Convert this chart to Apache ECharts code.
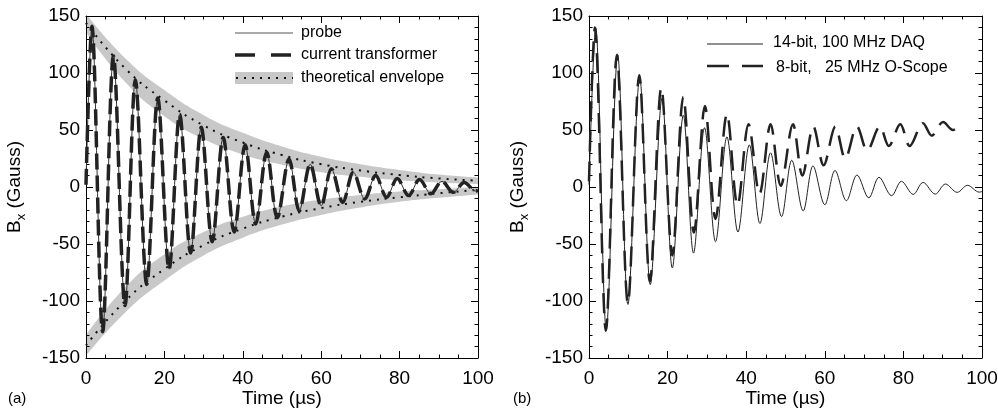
<!DOCTYPE html>
<html>
<head>
<meta charset="utf-8">
<script src="https://cdn.jsdelivr.net/npm/echarts@6/dist/echarts.min.js"></script>
<style>
html, body { margin: 0; padding: 0; background: #fff; }
#chart { width: 998px; height: 408px; }
</style>
</head>
<body>
<div id="chart"></div>
<script>
// peaks and troughs: [time (us), Bx (Gauss)]
var probe = [
  [0, 3], [1.5, 141], [4.25, -127], [7.0, 115], [9.95, -104], [12.6, 94], [15.5, -85.5],
  [18.3, 78], [21.2, -72], [23.9, 63.5], [26.7, -58], [29.4, 52.5], [32.2, -48],
  [35.0, 43.5], [37.8, -39.5], [40.6, 37], [43.3, -32.5], [46.1, 30.5], [48.8, -27],
  [51.8, 24.5], [54.4, -21], [57.2, 20], [60.0, -16.5], [62.6, 16], [65.5, -13.5],
  [68.2, 13], [71.1, -10.5], [73.9, 10], [76.7, -9], [79.4, 7.5], [82.3, -7.5],
  [85.1, 6.5], [88.0, -6], [90.8, 5], [93.7, -4.7], [96.5, 4], [99.4, -3.5], [100, -3]
];
var ctrans = [
  [0, 2], [1.5, 141], [4.25, -127], [7.0, 115], [9.95, -104], [12.6, 94], [15.5, -85.5],
  [18.3, 78], [21.2, -72], [23.9, 63.5], [26.7, -58], [29.4, 52.5], [32.2, -48],
  [35.0, 43.5], [37.8, -39.5], [40.6, 37], [43.3, -32.5], [46.1, 30.5], [48.8, -27],
  [51.8, 24.5], [54.4, -21], [57.2, 20], [60.0, -16.5], [62.6, 16], [65.5, -13.5],
  [68.2, 13], [71.1, -10.5], [73.9, 10], [76.7, -9], [79.4, 7.5], [82.3, -7.5],
  [85.1, 6.5], [88.0, -6], [90.8, 5], [93.7, -4.7], [96.5, 4], [99.4, -3.5], [100, -3]
];

// theoretical envelope (dotted) and its grey band, every 10 us
var envTime = [0, 10, 20, 30, 40, 50, 60, 70, 80, 90, 100];
var envUpper = [144, 104, 76, 54, 39, 28, 20, 14.5, 10.5, 7.5, 5.5];
var envLower = [-139, -100, -72, -51, -36.5, -26, -18.5, -13, -9, -5.5, -2.5];
var bandUpperHi = [152, 113, 85, 63, 47.5, 35.5, 26.5, 20, 15, 11, 8.3];
var bandUpperLo = [136, 92, 62, 42, 28.5, 19.5, 13, 9, 6, 4, 2.7];
var bandLowerHi = [-130, -88, -59, -39.5, -26, -17, -11, -7, -4, -2, -0.5];
var bandLowerLo = [-148, -110, -82, -60, -44.5, -33, -24.5, -18, -13, -9.5, -6.5];

// panel (b)
var daq14 = [
  [0, 2], [1.7, 140], [4.4, -125], [7.3, 116], [9.9, -103], [12.9, 96], [15.6, -85.6],
  [18.6, 78], [21.2, -71], [24.0, 63], [26.6, -58], [29.4, 52], [32.2, -48],
  [35.1, 44], [37.9, -39.5], [40.8, 37], [43.5, -32], [46.2, 30], [49.0, -26],
  [51.6, 23.5], [54.5, -21], [57.0, 18.5], [60.0, -15.5], [62.6, 14.5], [65.5, -12],
  [68.2, 10.5], [71.2, -9.5], [73.8, 8.5], [77.0, -7.6], [79.5, 5], [82.5, -6.5],
  [85.0, 4], [88.1, -6.2], [90.7, 2.6], [93.7, -4.7], [96.3, 1.5], [99.3, -4.5], [100, -4]
];
var scope8 = [
  [0, 5], [1.5, 140], [4.3, -126], [7.1, 116], [9.9, -102], [12.8, 98], [15.5, -83],
  [18.4, 87], [21.2, -60], [24.0, 79], [26.7, -40], [29.5, 71], [32.2, -28],
  [35.1, 64], [37.8, -16], [40.6, 55], [43.4, -6], [46.2, 55], [48.8, 1],
  [51.9, 55], [54.3, 10], [57.1, 53], [59.7, 19], [62.7, 53], [65.2, 25],
  [68.2, 53], [70.8, 32], [74.0, 53], [76.3, 36], [79.2, 55], [81.6, 36],
  [85.0, 56], [87.2, 45], [90.1, 57], [92.6, 50], [94.2, 53]
];

var timeRange = [0, 100];
var bxRange = [-150, 150];

var FONT = '"Liberation Sans", Arial, Helvetica, sans-serif';
var myChart = echarts.init(document.getElementById("chart"));

function pairs(xs, ys) {
  return xs.map(function(x, i) { return [x, ys[i]]; });
}

function xAxisPair(grid) {
  var base = {
    type: "value",
    gridIndex: grid,
    min: timeRange[0],
    max: timeRange[1],
    interval: 20,
    axisLine: { show: true, onZero: false, lineStyle: { color: "#000", width: 1 } },
    axisTick: { show: true, inside: true, length: 7, lineStyle: { color: "#000" } },
    minorTick: { show: true, splitNumber: 4, length: 3.5, lineStyle: { color: "#000" } },
    splitLine: { show: false },
    minorSplitLine: { show: false }
  };
  var bottom = Object.assign({}, base, {
    position: "bottom",
    axisLabel: { margin: 11, fontSize: 19, color: "#000", fontFamily: FONT },
    name: "Time (\u00b5s)",
    nameLocation: "middle",
    nameGap: 31,
    nameMoveOverlap: false,
    nameTextStyle: { fontSize: 19, color: "#000", fontFamily: FONT }
  });
  var top = Object.assign({}, base, { position: "top", axisLabel: { show: false } });
  return [bottom, top];
}

function yAxisPair(grid) {
  var base = {
    type: "value",
    gridIndex: grid,
    min: bxRange[0],
    max: bxRange[1],
    interval: 50,
    axisLine: { show: true, onZero: false, lineStyle: { color: "#000", width: 1 } },
    axisTick: { show: true, inside: true, length: 7, lineStyle: { color: "#000" } },
    minorTick: { show: true, splitNumber: 5, length: 3.5, lineStyle: { color: "#000" } },
    splitLine: { show: false },
    minorSplitLine: { show: false }
  };
  var left = Object.assign({}, base, {
    position: "left",
    axisLabel: { margin: 6, fontSize: 19, color: "#000", fontFamily: FONT },
    name: "{b|B}{s|x}{b| (Gauss)}",
    nameLocation: "middle",
    nameGap: 58,
    nameMoveOverlap: false,
    nameTextStyle: {
      color: "#000",
      fontFamily: FONT,
      fontSize: 19,
      rich: {
        b: { fontSize: 19, fontFamily: FONT, color: "#000", lineHeight: 26 },
        s: { fontSize: 13, fontFamily: FONT, color: "#000", lineHeight: 14, verticalAlign: "bottom" }
      }
    }
  });
  var right = Object.assign({}, base, { position: "right", axisLabel: { show: false } });
  return [left, right];
}

function osc(name, data, xi, width, color, dash, z) {
  return {
    name: name,
    type: "line",
    xAxisIndex: xi,
    yAxisIndex: xi,
    data: data,
    smooth: 0.34,
    symbol: "none",
    silent: true,
    z: z,
    lineStyle: { width: width, color: color, type: dash, cap: "butt" }
  };
}

// grey band = grey area to the outer edge, then white area to the inner edge on top
function bandArea(vals, color, z) {
  return {
    type: "line", xAxisIndex: 0, yAxisIndex: 0,
    data: pairs(envTime, vals), smooth: true, symbol: "none", silent: true, z: z,
    lineStyle: { width: 0, opacity: 0 },
    areaStyle: { color: color, opacity: 1, origin: 0 }
  };
}

function envLine(vals) {
  return {
    type: "line", xAxisIndex: 0, yAxisIndex: 0,
    data: pairs(envTime, vals), smooth: true, symbol: "none", silent: true, z: 1,
    lineStyle: { width: 2, color: "#111", type: [2, 6], cap: "butt" }
  };
}

var legendFont = '16px "Liberation Sans", Arial, sans-serif';

var option = {
  animation: false,
  backgroundColor: "#fff",
  grid: [
    { left: 86, top: 16, width: 392, height: 342, outerBoundsMode: "none", containLabel: false },
    { left: 589, top: 16, width: 393, height: 342, outerBoundsMode: "none", containLabel: false }
  ],
  xAxis: xAxisPair(0).concat(xAxisPair(1)),
  yAxis: yAxisPair(0).concat(yAxisPair(1)),
  series: [
    bandArea(bandUpperHi, "#c8c8c8", -3),
    bandArea(bandLowerLo, "#c8c8c8", -3),
    bandArea(bandUpperLo, "#fff", -2),
    bandArea(bandLowerHi, "#fff", -2),
    envLine(envUpper),
    envLine(envLower),
    osc("probe", probe, 0, 1, "#333", "solid", 3),
    osc("current transformer", ctrans, 0, 3.5, "#222", [16, 6], 4),
    osc("14-bit, 100 MHz DAQ", daq14, 2, 1, "#222", "solid", 3),
    osc("8-bit, 25 MHz O-Scope", scope8, 2, 2.5, "#222", [20, 10], 4)
  ],
  graphic: [
    // legend (a)
    { type: "line", shape: { x1: 235, y1: 33, x2: 293, y2: 33 }, style: { stroke: "#555", lineWidth: 1 } },
    { type: "text", x: 301, y: 33, style: { text: "probe", font: legendFont, fill: "#000", verticalAlign: "middle" } },
    { type: "line", shape: { x1: 235, y1: 55, x2: 293, y2: 55 }, style: { stroke: "#222", lineWidth: 3.5, lineDash: [20, 16] } },
    { type: "text", x: 301, y: 55, style: { text: "current transformer", font: legendFont, fill: "#000", verticalAlign: "middle" } },
    { type: "rect", shape: { x: 235, y: 72, width: 58, height: 12 }, style: { fill: "#c8c8c8" } },
    { type: "line", shape: { x1: 236, y1: 78, x2: 293, y2: 78 }, style: { stroke: "#111", lineWidth: 2, lineDash: [2, 6] } },
    { type: "text", x: 301, y: 78, style: { text: "theoretical envelope", font: legendFont, fill: "#000", verticalAlign: "middle" } },
    // legend (b)
    { type: "line", shape: { x1: 707, y1: 44, x2: 763, y2: 44 }, style: { stroke: "#222", lineWidth: 1 } },
    { type: "text", x: 773, y: 43, style: { text: "14-bit, 100 MHz DAQ", font: legendFont, fill: "#000", verticalAlign: "middle" } },
    { type: "line", shape: { x1: 707, y1: 66, x2: 763, y2: 66 }, style: { stroke: "#222", lineWidth: 2.5, lineDash: [22, 13] } },
    { type: "text", x: 776, y: 68, style: { text: "8-bit,   25 MHz O-Scope", font: legendFont, fill: "#000", verticalAlign: "middle" } },
    // panel tags
    { type: "text", x: 8, y: 399, style: { text: "(a)", font: '15px "Liberation Sans", Arial, sans-serif', fill: "#000", verticalAlign: "middle" } },
    { type: "text", x: 513, y: 399, style: { text: "(b)", font: '15px "Liberation Sans", Arial, sans-serif', fill: "#000", verticalAlign: "middle" } }
  ]
};

myChart.setOption(option);
window.addEventListener("resize", function() { myChart.resize(); });
</script>
</body>
</html>
